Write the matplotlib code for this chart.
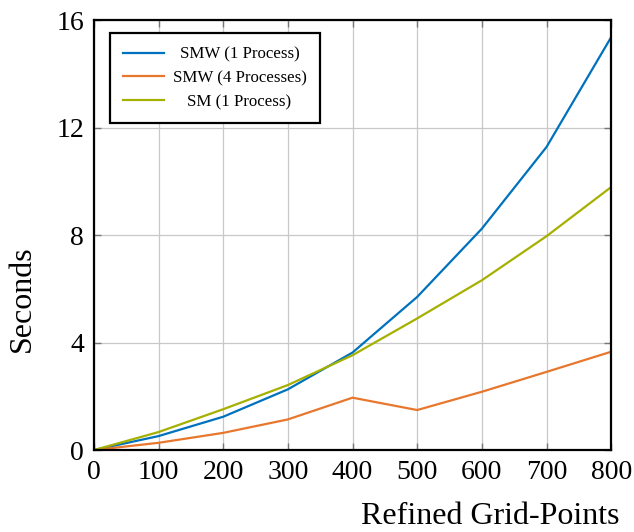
import matplotlib.pyplot as plt
import numpy as np

grid_points = [0, 100, 200, 300, 400, 500, 600, 700, 800]
smw_1proc = [0.0, 0.52, 1.24, 2.26, 3.63, 5.70, 8.24, 11.28, 15.37]
smw_4proc = [0.0, 0.27, 0.64, 1.14, 1.95, 1.49, 2.17, 2.91, 3.66]
sm_1proc = [0.0, 0.67, 1.52, 2.42, 3.53, 4.90, 6.32, 7.96, 9.79]

series_labels = ['SMW (1 Process)', 'SMW (4 Processes)', 'SM (1 Process)']
colors = ['#0072BD', '#E8772E', '#A5B000']

plt.rcParams['font.family'] = ['Liberation Serif', 'DejaVu Serif']

fig = plt.figure(figsize=(6.34, 5.32), dpi=100)
ax = fig.add_axes([0.148, 0.154, 0.816, 0.808])

for vals, lab, c in zip([smw_1proc, smw_4proc, sm_1proc], series_labels, colors):
    ax.plot(grid_points, vals, color=c, lw=1.6, label=lab)

ax.set_xlim(0, 800)
ax.set_ylim(0, 16)
ax.set_xticks(np.arange(0, 801, 100))
ax.set_yticks([0, 4, 8, 12, 16])
ax.grid(True, color='#c8c8c8', lw=0.9)
ax.set_axisbelow(True)
ax.tick_params(direction='in', length=5, width=1.0, color='#777777',
               top=True, right=True, labelsize=20, pad=7)
for sp in ax.spines.values():
    sp.set_linewidth(1.6)
    sp.set_color('black')

ax.set_xlabel('Refined Grid-Points', fontsize=23, ha='right', va='center')
ax.xaxis.set_label_coords(1.017, -0.155)
ax.set_ylabel('Seconds', fontsize=23, va='center')
ax.yaxis.set_label_coords(-0.139, 0.353)

leg = ax.legend(loc='upper left', bbox_to_anchor=(0.031, 0.970), borderaxespad=0,
                fontsize=12.2, frameon=True, fancybox=False, handlelength=2.4,
                borderpad=0.8, labelspacing=0.45, handletextpad=0.5)
leg.get_frame().set_edgecolor('black')
leg.get_frame().set_linewidth(1.6)
leg.get_frame().set_alpha(1)

# centre the legend texts like pgfplots does
fig.canvas.draw()
r = fig.canvas.get_renderer()
widths = [t.get_window_extent(r).width for t in leg.get_texts()]
wmax = max(widths)
for t, w in zip(leg.get_texts(), widths):
    t.set_position(((wmax - w) / 2, 0))

fig.savefig('out.png', dpi=100)
